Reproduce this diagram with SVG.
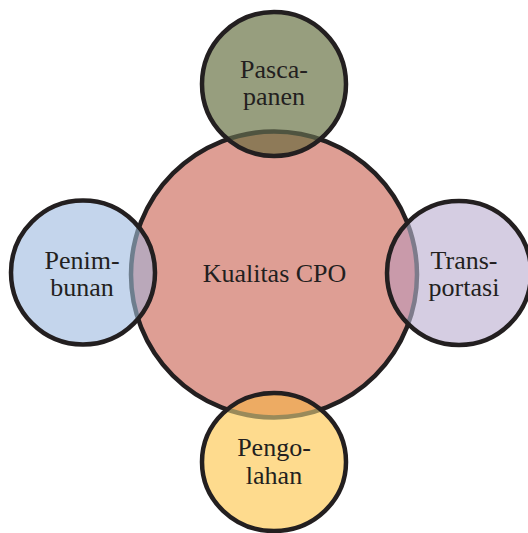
<svg xmlns="http://www.w3.org/2000/svg" width="528" height="533" viewBox="0 0 528 533">
<style>
.lbl{font-family:"Liberation Serif","Times New Roman",serif;font-size:26px;fill:#231F20;text-anchor:middle}
.ring{fill:none;stroke:#231F20;stroke-width:4.5}
</style>
<defs>
<clipPath id="cTop"><circle cx="274" cy="84" r="72"/></clipPath>
<clipPath id="cLeft"><circle cx="83" cy="272.5" r="72"/></clipPath>
<clipPath id="cRight"><circle cx="459" cy="273" r="72"/></clipPath>
<clipPath id="cBottom"><ellipse cx="274" cy="462" rx="72" ry="69"/></clipPath>
</defs>
<rect width="528" height="533" fill="#FFFFFF"/>
<g id="center">
<circle cx="274" cy="274.5" r="143" fill="#DE9E94" stroke="#231F20" stroke-width="4.5"/>
<text class="lbl" x="274.5" y="282" font-size="26.5">Kualitas CPO</text>
</g>
<g id="pascapanen">
<circle cx="274" cy="84" r="72" fill="#979E7E"/>
<g clip-path="url(#cTop)"><circle cx="274" cy="274.5" r="143" fill="#8E7A58" stroke="#4F5440" stroke-width="4.5"/></g>
<circle class="ring" cx="274" cy="84" r="72"/>
<text class="lbl" x="274" y="78">Pasca-</text>
<text class="lbl" x="274" y="105">panen</text>
</g>
<g id="penimbunan">
<circle cx="83" cy="272.5" r="72" fill="#C4D5EC"/>
<g clip-path="url(#cLeft)"><circle cx="274" cy="274.5" r="143" fill="#BAA8BA" stroke="#6E7E8E" stroke-width="4.5"/></g>
<circle class="ring" cx="83" cy="272.5" r="72"/>
<text class="lbl" x="82" y="269">Penim-</text>
<text class="lbl" x="82" y="296">bunan</text>
</g>
<g id="transportasi">
<circle cx="459" cy="273" r="72" fill="#D5CDE2"/>
<g clip-path="url(#cRight)"><circle cx="274" cy="274.5" r="143" fill="#C99AAA" stroke="#7E7B8B" stroke-width="4.5"/></g>
<circle class="ring" cx="459" cy="273" r="72"/>
<text class="lbl" x="464" y="269">Trans-</text>
<text class="lbl" x="464" y="296">portasi</text>
</g>
<g id="pengolahan">
<ellipse cx="274" cy="462" rx="72" ry="69" fill="#FEDB8E"/>
<g clip-path="url(#cBottom)"><circle cx="274" cy="274.5" r="143" fill="#EDAB63" stroke="#9A8A5A" stroke-width="4.5"/></g>
<ellipse class="ring" cx="274" cy="462" rx="72" ry="69"/>
<text class="lbl" x="274" y="456">Pengo-</text>
<text class="lbl" x="274" y="483.5">lahan</text>
</g>
</svg>
